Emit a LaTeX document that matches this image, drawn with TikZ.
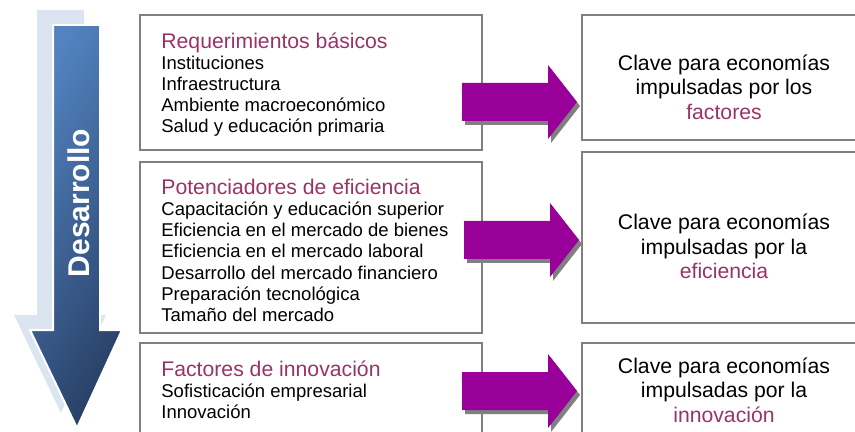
\documentclass[tikz,border=0pt]{standalone}
\usepackage{fontspec}
\setmainfont{Liberation Sans}
\definecolor{headc}{RGB}{153,51,102}
\definecolor{arrowc}{RGB}{153,0,153}
\definecolor{boxline}{RGB}{128,128,128}
\definecolor{devlight}{RGB}{82,131,192}
\definecolor{devdark}{RGB}{40,64,102}
\definecolor{devshadow}{RGB}{219,229,241}
\newcommand{\headfont}{\fontsize{10.6}{10.6}\selectfont\color{headc}}
\tikzset{
  box/.style={rectangle,draw=boxline,line width=1pt,inner sep=0pt},
  items/.style={align=left,inner sep=0pt,font=\fontsize{9.25}{10.6}\selectfont},
  keytext/.style={align=center,inner sep=0pt,font=\fontsize{10.6}{12.2}\selectfont},
  fatarrow/.pic={
    \fill[boxline,shift={(3,4)}] (0,-19) -- (86,-19) -- (86,-37) -- (115,0) -- (86,37) -- (86,19) -- (0,19) -- cycle;
    \fill[arrowc] (0,-19) -- (86,-19) -- (86,-37) -- (115,0) -- (86,37) -- (86,19) -- (0,19) -- cycle;
  }
}
\begin{document}
\begin{tikzpicture}[x=0.5pt,y=-0.5pt]
  \useasboundingbox (0,0) rectangle (855,432);
  % development arrow
  \fill[devshadow] (37,10) -- (84,10) -- (84,315) -- (106,315) -- (61,413) -- (14,315) -- (37,315) -- cycle;
  \shade[left color=devlight,right color=devdark,shading angle=60,draw=white,line width=1pt]
    (53,25) -- (100,25) -- (100,330) -- (122,330) -- (77,428) -- (30,330) -- (53,330) -- cycle;
  \node[rotate=90,text=white,font=\bfseries\fontsize{15}{18}\selectfont] (dev) at (79,203) {Desarrollo};
  % pillar groups
  \node[box,minimum width=171pt,minimum height=67.5pt] (L1) at (311,82.5) {};
  \node[box,minimum width=171pt,minimum height=85.5pt] (L2) at (311,247.5) {};
  \node[box,minimum width=171pt,minimum height=51pt] (L3) at (311,394) {};
  \node[items,anchor=north west] (t1) at (161,32)
    {{\headfont Requerimientos básicos}\\Instituciones\\Infraestructura\\Ambiente macroeconómico\\Salud y educación primaria};
  \node[items,anchor=north west] (t2) at (161,178.5)
    {{\headfont Potenciadores de eficiencia}\\Capacitación y educación superior\\Eficiencia en el mercado de bienes\\Eficiencia en el mercado laboral\\Desarrollo del mercado financiero\\Preparación tecnológica\\Tamaño del mercado};
  \node[items,anchor=north west] (t3) at (161,360)
    {{\headfont Factores de innovación}\\Sofisticación empresarial\\Innovación};
  % economy stages
  \node[box,minimum width=142pt,minimum height=62.5pt] (R1) at (724,77.5) {};
  \node[box,minimum width=142pt,minimum height=85.5pt] (R2) at (724,237.5) {};
  \node[box,minimum width=142pt,minimum height=51pt] (R3) at (724,394) {};
  \node[keytext] (k1) at (724,87) {Clave para economías\\impulsadas por los\\{\color{headc}factores}};
  \node[keytext] (k2) at (724,246.5) {Clave para economías\\impulsadas por la\\{\color{headc}eficiencia}};
  \node[keytext] (k3) at (724,390) {Clave para economías\\impulsadas por la\\{\color{headc}innovación}};
  % arrows
  \pic at (462,102) {fatarrow};
  \pic at (464,240) {fatarrow};
  \pic at (462,391) {fatarrow};
\end{tikzpicture}
\end{document}
